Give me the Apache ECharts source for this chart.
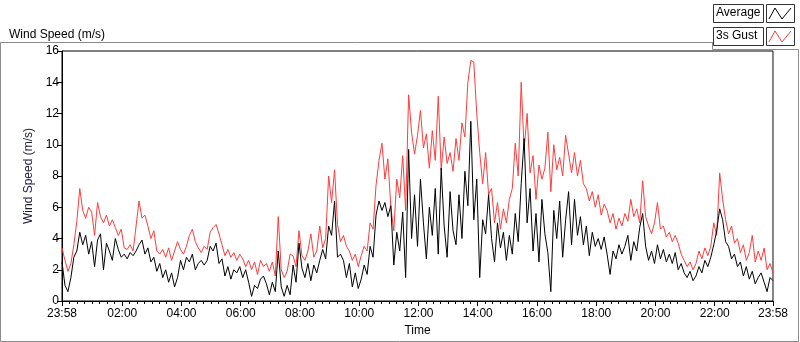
<!DOCTYPE html>
<html>
<head>
<meta charset="utf-8">
<script src="https://cdn.jsdelivr.net/npm/echarts@6/dist/echarts.min.js"></script>
<style>
    html, body { margin: 0; padding: 0; background: #fff; }
    #main { width: 800px; height: 342px; }
</style>
</head>
<body>
<div id="main"></div>
<script>

// minutes after 23:58, one sample every 6 minutes
var sampleStep = 6;

// time axis labels and where they sit (minutes after 23:58)
var tickLabels = ['23:58', '02:00', '04:00', '06:00', '08:00', '10:00', '12:00',
    '14:00', '16:00', '18:00', '20:00', '22:00', '23:58'];
var tickMinutes = [0, 122, 242, 362, 482, 602, 722, 842, 962, 1082, 1202, 1322, 1440];

// 3s gust (m/s)
var gust = [
    3.4, 2.6, 1.9, 2.4, 3.6, 5.1, 7.2, 5.8, 5.3, 6.0,
    5.7, 4.2, 6.3, 5.4, 5.0, 5.5, 4.8, 5.2, 4.7, 4.2,
    4.6, 3.4, 3.3, 3.6, 3.2, 4.8, 6.4, 5.3, 5.5, 4.8,
    4.0, 4.5, 3.2, 3.0, 3.3, 2.8, 3.4, 2.6, 3.2, 3.8,
    3.3, 3.0, 3.5, 4.2, 4.6, 3.8, 3.4, 3.1, 3.5, 3.3,
    4.4, 4.7, 4.9, 4.3, 3.6, 2.9, 3.3, 2.8, 3.1, 2.6,
    3.0, 2.7, 2.2, 2.6, 2.0, 2.5, 1.7, 2.6, 2.2, 2.4,
    1.9, 2.5, 1.6, 5.4, 2.0, 1.5, 1.9, 3.0, 2.9, 2.2,
    4.5, 2.9, 2.6, 3.2, 4.3, 2.8, 3.2, 4.8, 3.4, 4.0,
    8.0, 6.3, 8.4, 4.9, 3.8, 4.2, 3.5, 3.2, 2.6, 3.0,
    2.2, 2.9, 3.5, 3.2, 5.0, 4.6, 7.4, 9.0, 10.1, 7.8,
    9.1, 6.0, 4.5, 7.8, 6.6, 9.3, 5.8, 13.2, 10.8, 9.4,
    10.6, 12.2, 9.8, 10.7, 8.5, 10.9, 9.0, 13.1, 8.4, 10.5,
    8.8, 9.5, 8.3, 10.4, 9.0, 11.4, 10.5, 14.0, 15.4, 15.3,
    12.0, 9.5, 7.5, 9.5, 6.8, 7.2, 5.0, 6.3, 4.6, 5.9,
    5.0, 6.5, 7.2, 10.1, 8.0, 14.0, 9.7, 12.0, 8.2, 9.3,
    6.5, 8.7, 7.8, 8.5, 10.8, 7.0, 10.0, 8.4, 9.2, 8.0,
    10.6, 9.4, 8.2, 9.5, 8.0, 9.0, 7.5, 7.2, 6.4, 7.0,
    6.0, 6.8, 5.5, 6.2, 5.8, 5.0, 5.6, 4.6, 5.3, 4.8,
    5.6, 5.1, 6.5, 5.4, 5.9, 5.0, 7.7, 5.4, 4.8, 4.3,
    5.0, 6.3, 4.6, 4.8, 4.1, 4.4, 3.8, 4.2, 3.7, 3.0,
    2.6, 2.2, 2.5, 2.0, 2.4, 3.2, 2.7, 3.4, 2.9, 3.5,
    5.0, 4.2, 8.2, 6.5, 5.2, 4.3, 4.8, 3.7, 4.0, 3.1,
    3.6, 2.6, 3.1, 4.2, 2.5, 3.2, 2.6, 3.4, 2.0, 2.4,
    1.8
];

// average (m/s)
var average = [
    2.5, 1.0, 0.6, 1.5, 2.8, 3.2, 4.4, 3.6, 4.2, 3.0,
    3.8, 2.2, 3.9, 4.3, 2.0, 3.7, 3.2, 2.6, 4.0, 3.3,
    2.8, 3.0, 2.7, 3.1, 2.9, 3.2, 3.6, 3.9, 3.0, 3.4,
    2.5, 2.8, 1.9, 2.4, 1.5, 2.0, 1.2, 1.8, 0.9, 1.5,
    2.6, 2.0, 2.8, 2.5, 3.0, 2.0, 2.4, 2.6, 2.3, 2.6,
    3.5, 3.2, 3.7, 2.4, 2.7, 1.6, 2.2, 1.4, 2.0, 1.8,
    2.2, 1.5, 2.0, 1.2, 0.3, 1.0, 0.8, 1.4, 1.6, 1.1,
    0.4, 1.2, 0.6, 3.2, 0.9, 0.3, 1.0, 0.4, 2.3, 1.2,
    3.7, 2.1, 1.5, 2.4, 1.3, 2.3, 1.8, 2.6, 3.3, 2.7,
    4.8, 4.2, 6.4, 2.8, 3.0, 2.6, 1.5, 2.4, 0.9, 1.8,
    0.8, 1.4, 2.3, 1.7, 3.5, 2.8, 5.5, 6.4, 5.8, 6.3,
    5.4, 6.1, 2.3, 4.4, 3.2, 5.7, 1.5, 9.7, 4.0, 6.8,
    3.5, 7.8, 5.0, 2.7, 6.0, 4.2, 7.2, 3.0, 8.5, 4.8,
    2.8, 7.0, 4.5, 3.6, 6.8, 4.0, 8.3, 6.1, 11.5, 5.2,
    7.8, 1.5, 5.2, 4.3, 6.8, 4.0, 2.5, 5.0, 3.4, 4.4,
    2.6, 4.2, 3.0, 5.6, 3.8, 7.5, 10.4, 5.0, 7.2, 3.2,
    5.6, 2.5, 6.5, 4.3, 3.1, 0.6, 5.8, 4.0, 6.4, 2.8,
    5.2, 7.0, 3.6, 6.5, 4.2, 5.4, 3.6, 4.8, 2.9, 4.4,
    3.5, 4.0, 3.3, 4.1, 3.0, 1.7, 3.2, 2.7, 3.6, 3.0,
    3.5, 4.2, 2.6, 3.8, 3.2, 4.7, 5.6, 3.5, 2.6, 3.2,
    2.4, 3.6, 2.7, 3.3, 2.5, 3.0, 2.4, 3.1, 2.0, 2.4,
    1.8, 1.5, 1.9, 1.3, 1.6, 2.2, 1.8, 2.6, 2.2, 2.8,
    3.6, 4.5, 5.9, 5.2, 3.8, 3.5, 2.7, 3.0, 2.2, 2.5,
    1.6, 2.2, 1.4, 1.9, 1.1, 1.5, 1.8, 1.2, 0.6, 1.5,
    1.3
];

var toPoints = function (values) {
    var out = [];
    for (var i = 0; i < values.length; i++) {
        out.push([i * sampleStep, values[i]]);
    }
    return out;
};

// 8 small ticks between each pair of labelled ticks
var minorTicks = [];
for (var k = 0; k < tickMinutes.length - 1; k++) {
    var span = (tickMinutes[k + 1] - tickMinutes[k]) / 8;
    for (var s = 1; s < 8; s++) {
        minorTicks.push(tickMinutes[k] + span * s);
    }
}

var textFont = '"Liberation Sans", Arial, sans-serif';

var myChart = echarts.init(document.getElementById('main'));

var option = {
    animation: false,
    backgroundColor: '#fff',
    textStyle: { fontFamily: textFont },
    title: {
        text: 'Wind Speed (m/s)',
        left: 4,
        top: 24,
        textStyle: { fontSize: 12, fontWeight: 'normal', color: '#000', fontFamily: textFont }
    },
    grid: {
        left: 62,
        right: 27,
        top: 51,
        bottom: 39,
        show: true,
        borderColor: '#000',
        borderWidth: 1
    },
    xAxis: [
        {
            type: 'value',
            min: 0,
            max: 1440,
            name: 'Time',
            nameLocation: 'middle',
            nameGap: 24,
            nameTextStyle: { fontSize: 12, color: '#000' },
            axisLine: { lineStyle: { color: '#000' } },
            axisTick: { length: 5, customValues: tickMinutes, lineStyle: { color: '#000' } },
            axisLabel: {
                customValues: tickMinutes,
                margin: 7,
                fontSize: 12,
                color: '#000',
                formatter: function (v) {
                    var idx = tickMinutes.indexOf(v);
                    return idx >= 0 ? tickLabels[idx] : '';
                }
            },
            splitLine: { show: false }
        },
        {
            type: 'value',
            min: 0,
            max: 1440,
            position: 'bottom',
            axisLine: { show: false },
            axisTick: { length: 3, customValues: minorTicks, lineStyle: { color: '#000' } },
            axisLabel: { show: false },
            splitLine: { show: false }
        }
    ],
    yAxis: {
        type: 'value',
        min: 0,
        max: 16,
        interval: 2,
        name: 'Wind Speed (m/s)',
        nameLocation: 'middle',
        nameGap: 26,
        nameTextStyle: { fontSize: 12, color: '#1a1a3a' },
        axisLine: { show: true, lineStyle: { color: '#000' } },
        axisTick: { show: true, length: 5, lineStyle: { color: '#000' } },
        axisLabel: { fontSize: 12, color: '#000', margin: 3 },
        splitLine: { show: false }
    },
    series: [
        {
            name: '3s Gust',
            type: 'line',
            data: toPoints(gust),
            showSymbol: false,
            lineStyle: { color: '#ff3c3c', width: 1 },
            itemStyle: { color: '#ff3c3c' }
        },
        {
            name: 'Average',
            type: 'line',
            data: toPoints(average),
            showSymbol: false,
            lineStyle: { color: '#000', width: 1 },
            itemStyle: { color: '#000' }
        }
    ],
    graphic: [
        // outer frame
        { type: 'polyline', shape: { points: [[712, 42.5], [0.5, 42.5], [0.5, 341.5], [798.5, 341.5], [798.5, 49.5], [712.5, 49.5], [712.5, 42]] },
            style: { stroke: '#8c8c8c', fill: null, lineWidth: 1 } },
        { type: 'line', shape: { x1: 773.5, y1: 51, x2: 773.5, y2: 303 }, style: { stroke: '#8c8c8c', lineWidth: 1 } },
        // legend: Average
        { type: 'rect', shape: { x: 713.5, y: 4.5, width: 50, height: 18 }, style: { fill: '#fff', stroke: '#333', lineWidth: 1 } },
        { type: 'text', left: 716, top: 7, style: { text: 'Average', fontSize: 12, fill: '#000', fontFamily: textFont } },
        { type: 'rect', shape: { x: 766.5, y: 4.5, width: 28, height: 18 }, style: { fill: '#fff', stroke: '#333', lineWidth: 1 } },
        { type: 'polyline', shape: { points: [[769, 19], [775, 8], [782, 19], [791, 8]] }, style: { stroke: '#000', fill: null, lineWidth: 1 } },
        // legend: 3s Gust
        { type: 'rect', shape: { x: 713.5, y: 27.5, width: 50, height: 18 }, style: { fill: '#fff', stroke: '#333', lineWidth: 1 } },
        { type: 'text', left: 716, top: 30, style: { text: '3s Gust', fontSize: 12, fill: '#000', fontFamily: textFont } },
        { type: 'rect', shape: { x: 766.5, y: 27.5, width: 28, height: 18 }, style: { fill: '#fff', stroke: '#333', lineWidth: 1 } },
        { type: 'polyline', shape: { points: [[769, 42], [775, 31], [782, 42], [791, 31]] }, style: { stroke: '#ff3c3c', fill: null, lineWidth: 1 } }
    ]
};

myChart.setOption(option);

</script>
</body>
</html>
